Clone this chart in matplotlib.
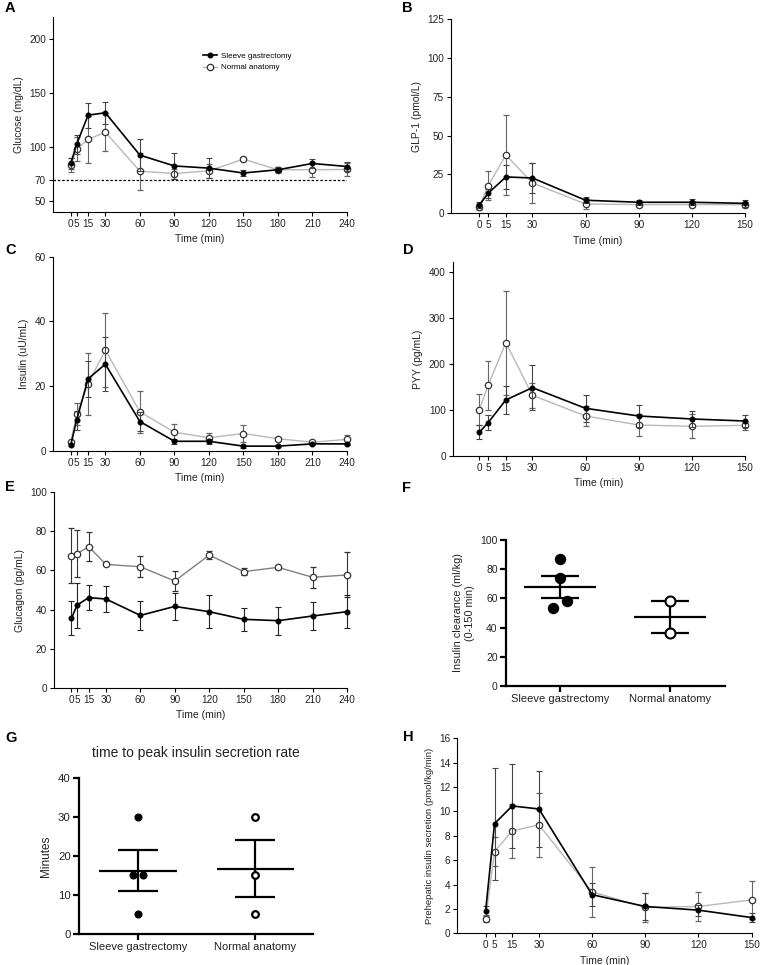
import numpy as np
import matplotlib
matplotlib.use('Agg')
import matplotlib.pyplot as plt

plt.rcParams['font.family'] = ['Liberation Sans', 'DejaVu Sans']

# tiempos de muestreo (min)
t_long = [0, 5, 15, 30, 60, 90, 120, 150, 180, 210, 240]
t_short = [0, 5, 15, 30, 60, 90, 120, 150]
group_names = ['Sleeve gastrectomy', 'Normal anatomy']

# A - glucosa (mg/dL)
glu_sg = [85, 102.4, 129.4, 131.6, 92.5, 82.5, 80.5, 76, 79, 84.8, 82]
glu_sg_err = [5, 9, 11.5, 10.2, 15, 12.4, 9, 3, 2.5, 4, 4]
glu_na = [83.3, 97.8, 107, 113.7, 77.7, 75.5, 78, 88.8, 79, 79, 79.3]
glu_na_err = [6.5, 11, 22, 17.5, 17, 4.6, 6.5, 2, 2.5, 6.5, 6]
hypo_threshold = 70

# B - GLP-1 (pmol/L)
glp_sg = [5.4, 12.9, 23.4, 22.7, 8.4, 7.1, 7.1, 6.4]
glp_sg_err = [2, 3, 7.6, 9.4, 2, 1.5, 2, 2.2]
glp_na = [4.3, 17.8, 37.5, 19.5, 6, 5.6, 5.6, 5.6]
glp_na_err = [2, 9.3, 25.5, 13, 3, 1.5, 1.5, 1.5]

# C - insulina (uU/mL)
ins_sg = [1.9, 9.5, 22.3, 26.8, 9.1, 3.0, 3.0, 1.5, 1.5, 2.2, 2.2]
ins_sg_err = [0.5, 3.0, 5.5, 8.3, 2.9, 0.8, 0.7, 0.5, 0.3, 0.3, 0.3]
ins_na = [2.9, 11.3, 20.7, 31.2, 12.1, 5.8, 4.1, 5.4, 3.8, 2.7, 3.6]
ins_na_err = [0.6, 3.4, 9.6, 11.4, 6.4, 2.4, 1.5, 2.5, 0.6, 0.4, 1.3]

# D - PYY (pg/mL)
pyy_sg = [51.5, 72.6, 122, 148.8, 103.8, 87.1, 80.6, 76.2]
pyy_sg_err = [15, 17, 31, 49, 30, 25, 17, 13]
pyy_na = [100.9, 153.9, 246.8, 132.1, 87.1, 67.5, 64.6, 66.8]
pyy_na_err = [33, 54, 113, 27, 22, 24, 26, 10]

# E - glucagon (pg/mL)
gcg_sg = [35.5, 42.3, 46.1, 45.4, 37, 41.6, 38.9, 35, 34.3, 36.7, 38.9]
gcg_sg_err = [8.7, 11.5, 6.4, 6.9, 7.6, 7, 8.6, 5.8, 7.2, 7.2, 8.3]
gcg_na = [67.6, 68.6, 72.2, 63.1, 61.9, 54.6, 67.9, 59.4, 61.6, 56.5, 57.7]
gcg_na_err = [14, 12.2, 7.6, 0.5, 5.3, 5.2, 2, 1.7, 0.8, 5.5, 11.5]

# F - aclaramiento de insulina (ml/kg, 0-150 min)
clear_sg = [87, 73.7, 58, 53.2]
clear_na = [58.4, 36.3]

# G - tiempo al pico de secrecion (min)
peak_sg = [30, 15, 15, 5]
peak_na = [30, 15, 5]

# H - secrecion prehepatica de insulina (pmol/kg/min)
isr_sg = [1.86, 9.0, 10.45, 10.2, 3.17, 2.2, 1.9, 1.29]
isr_sg_err = [0.4, 4.6, 3.45, 3.1, 0.95, 1.1, 0.45, 0.35]
isr_na = [1.2, 6.7, 8.4, 8.9, 3.4, 2.13, 2.2, 2.74]
isr_na_err = [0.3, 1.2, 2.25, 2.65, 2.05, 1.2, 1.15, 1.55]

W, H = 761, 965
fig = plt.figure(figsize=(W / 100, H / 100), dpi=100)


def box(l, t, r, b):
    return [l / W, 1 - b / H, (r - l) / W, (b - t) / H]


def style(ax, lw=0.8, tl=3, fs=7.2):
    for s in ['top', 'right']:
        ax.spines[s].set_visible(False)
    for s in ['left', 'bottom']:
        ax.spines[s].set_linewidth(lw)
    ax.tick_params(direction='out', length=tl, width=lw, labelsize=fs, pad=2, labelcolor='#222222')


def timecourse(ax, t, sg, sg_err, na, na_err, na_color='#b8b8b8', sg_ecolor='#444444', na_ecolor='#666666'):
    c_na = ax.errorbar(t, na, yerr=na_err, color=na_color, lw=1.0, ecolor=na_ecolor,
                       elinewidth=0.8, capsize=2.5, capthick=0.8, marker='o', ms=4.6,
                       mfc='white', mec='#333333', mew=0.9, zorder=2)
    c_sg = ax.errorbar(t, sg, yerr=sg_err, color='black', lw=1.2, ecolor=sg_ecolor,
                       elinewidth=0.8, capsize=2.5, capthick=0.8, marker='o', ms=3.3,
                       mfc='black', mec='black', zorder=3)
    for c in (c_na, c_sg):
        for art in c.get_children():
            art.set_clip_on(False)
    ax.set_xticks(t)
    ax.set_xlabel('Time (min)', fontsize=7.5, color='#222222')
    return c_sg, c_na


# A
axA = fig.add_axes(box(53, 17, 347, 212))
style(axA)
c_sg, c_na = timecourse(axA, t_long, glu_sg, glu_sg_err, glu_na, glu_na_err)
axA.set_xlim(-15.5, 240)
axA.set_ylim(40, 220)
axA.set_yticks([50, 70, 100, 150, 200])
axA.hlines(hypo_threshold, axA.get_xlim()[0], t_long[-1], colors='black', linestyles=(0, (2, 1.5)), lw=0.9)
axA.set_ylabel('Glucose (mg/dL)', fontsize=7.5, color='#222222')
axA.legend([c_sg.lines[0], c_na.lines[0]], group_names, frameon=False, fontsize=5.8,
           loc='upper left', bbox_to_anchor=(0.51, 0.82), borderaxespad=0, borderpad=0,
           handlelength=1.8, handletextpad=0.5, labelspacing=0.5)

# B
axB = fig.add_axes(box(451, 19, 745, 213.3))
style(axB)
timecourse(axB, t_short, glp_sg, glp_sg_err, glp_na, glp_na_err)
axB.set_xlim(-16, 150)
axB.set_ylim(0, 125)
axB.set_yticks([0, 25, 50, 75, 100, 125])
axB.set_ylabel('GLP-1 (pmol/L)', fontsize=7.5, color='#222222')

# C
axC = fig.add_axes(box(53, 256.7, 347, 451))
style(axC)
timecourse(axC, t_long, ins_sg, ins_sg_err, ins_na, ins_na_err)
axC.set_xlim(-15.5, 240)
axC.set_ylim(0, 60)
axC.set_yticks([0, 20, 40, 60])
axC.set_ylabel('Insulin (uU/mL)', fontsize=7.5, color='#222222')

# D
axD = fig.add_axes(box(452.7, 261.7, 745, 456))
style(axD)
timecourse(axD, t_short, pyy_sg, pyy_sg_err, pyy_na, pyy_na_err)
axD.set_xlim(-15, 150)
axD.set_ylim(0, 423)
axD.set_yticks([0, 100, 200, 300, 400])
axD.set_ylabel('PYY (pg/mL)', fontsize=7.5, color='#222222')

# E
axE = fig.add_axes(box(54, 492.3, 347, 687.7))
style(axE)
timecourse(axE, t_long, gcg_sg, gcg_sg_err, gcg_na, gcg_na_err,
           na_color='#808080', sg_ecolor='#222222', na_ecolor='#333333')
axE.set_xlim(-15.2, 240)
axE.set_ylim(0, 100)
axE.set_yticks([0, 20, 40, 60, 80, 100])
axE.set_ylabel('Glucagon (pg/mL)', fontsize=7.5, color='#222222')

# H
axH = fig.add_axes(box(457.3, 738.3, 751.7, 933.3))
style(axH)
timecourse(axH, t_short, isr_sg, isr_sg_err, isr_na, isr_na_err)
axH.set_xlim(-16, 150)
axH.set_ylim(0, 16)
axH.set_yticks(range(0, 17, 2))
axH.set_ylabel('Prehepatic insulin secretion (pmol/kg/min)', fontsize=6.8, color='#222222')


def dotplot(ax, groups, jitters, ms, mew):
    for i, (vals, jit) in enumerate(zip(groups, jitters)):
        vals = np.array(vals, dtype=float)
        x = i + np.array(jit)
        if i == 0:
            ax.plot(x, vals, 'o', color='black', ms=ms, zorder=3, clip_on=False)
        else:
            ax.plot(x, vals, 'o', mfc='white', mec='black', mew=mew, ms=ms, zorder=3, clip_on=False)
        m = vals.mean()
        sem = vals.std(ddof=1) / np.sqrt(len(vals))
        ax.hlines(m, i - 0.33, i + 0.33, color='black', lw=1.6, zorder=2)
        ax.hlines([m - sem, m + sem], i - 0.17, i + 0.17, color='black', lw=1.6, zorder=2)
        ax.vlines(i, m - sem, m + sem, color='black', lw=1.6, zorder=2)
    ax.set_xticks([0, 1])
    ax.set_xticklabels(group_names, fontsize=8)


# F
axF = fig.add_axes(box(506, 540, 725, 686))
style(axF, lw=1.6, tl=4, fs=7.5)
dotplot(axF, [clear_sg, clear_na], [[0, 0, 0.062, -0.062], [0, 0]], ms=7.2, mew=1.5)
axF.set_xlim(-0.49, 1.5)
axF.set_ylim(0, 100)
axF.set_yticks(range(0, 101, 20))
axF.set_ylabel('Insulin clearance (ml/kg)\n(0-150 min)', fontsize=7.8, color='#222222')

# G
axG = fig.add_axes(box(79, 777.7, 313, 934))
style(axG, lw=1.6, tl=4, fs=8.2)
dotplot(axG, [peak_sg, peak_na], [[0, -0.041, 0.041, 0], [0, 0, 0]], ms=4.8, mew=1.6)
axG.set_xlim(-0.5, 1.49)
axG.set_ylim(0, 40)
axG.set_yticks([0, 10, 20, 30, 40])
axG.set_ylabel('Minutes', fontsize=8.5, color='#222222')
axG.set_title('time to peak insulin secretion rate', fontsize=10, pad=15, color='#222222')

# letras de panel
for lbl, x, y in [('A', 5, 8), ('B', 402, 8), ('C', 5, 250), ('D', 403, 250),
                  ('E', 5, 487), ('F', 402, 488), ('G', 5, 738), ('H', 403, 737)]:
    fig.text(x / W, 1 - y / H, lbl, fontsize=10.5, fontweight='bold', va='center', ha='left')

fig.savefig('out.png', dpi=100)
